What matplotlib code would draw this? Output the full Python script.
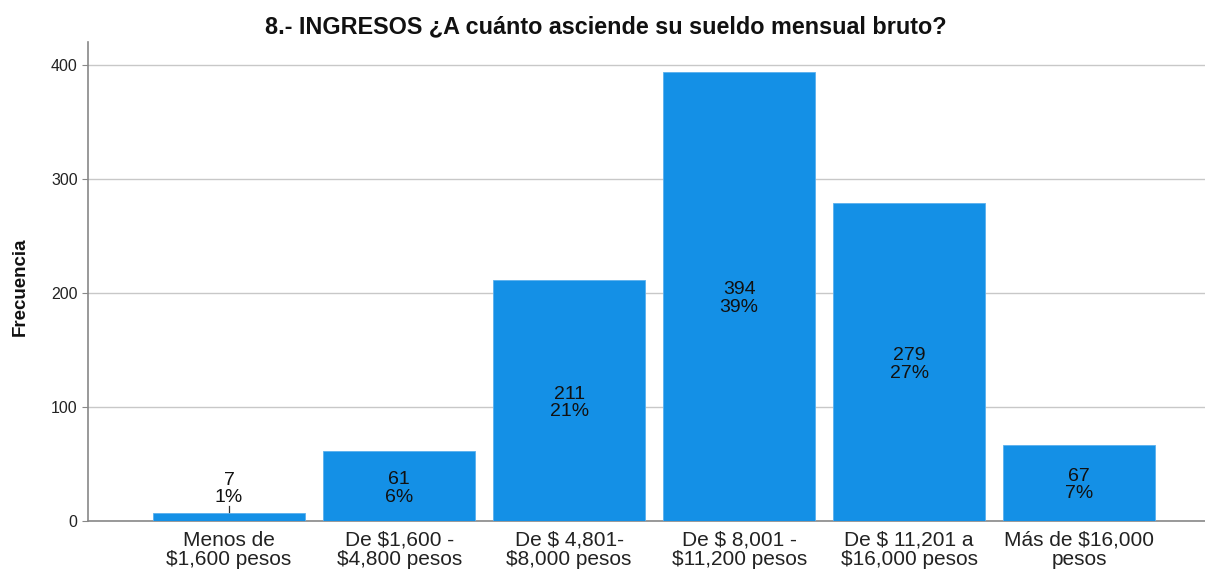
import numpy as np
import matplotlib
matplotlib.use("Agg")
import matplotlib.pyplot as plt

plt.rcParams['font.family'] = ['Liberation Sans', 'DejaVu Sans']

categorias = ["Menos de\n$1,600 pesos", "De $1,600 -\n$4,800 pesos", "De $ 4,801-\n$8,000 pesos",
              "De $ 8,001 -\n$11,200 pesos", "De $ 11,201 a\n$16,000 pesos", "Más de $16,000\npesos"]
frecuencia = [7, 61, 211, 394, 279, 67]
porcentaje = ["1%", "6%", "21%", "39%", "27%", "7%"]

fig = plt.figure(figsize=(12.05, 5.7), dpi=100)
ax = fig.add_axes([88 / 1205, 1 - 521 / 570, (1205 - 88) / 1205, (521 - 42) / 570])

x = np.arange(len(categorias))
ax.bar(x, frecuencia, width=0.894, color='#1490E6', edgecolor='#5AB0EE', linewidth=0.6, zorder=3)

for xi, f, p in zip(x, frecuencia, porcentaje):
    if f < 40:
        ymid = 28
        ax.plot([xi, xi], [f + 1, 13.5], color='#333333', lw=0.9, zorder=4)
    else:
        ymid = f / 2 - 2
    ax.text(xi, ymid + 7.8, str(f), ha='center', va='center', fontsize=14, color='#111111', zorder=5)
    ax.text(xi, ymid - 7.8, p, ha='center', va='center', fontsize=14, color='#111111', zorder=5)

ax.set_xlim(-0.83, 5.74)
ax.set_ylim(0, 420)
ax.set_yticks([0, 100, 200, 300, 400])
ax.set_xticks(x)
ax.set_xticklabels(categorias, fontsize=15, color='#222222', linespacing=1.05)
ax.tick_params(axis='x', length=0, pad=7)
ax.tick_params(axis='y', length=4, color='#888888', labelsize=11.5, labelcolor='#222222')
ax.yaxis.grid(True, color='#c8c8c8', lw=1, zorder=0)
for s in ['top', 'right']:
    ax.spines[s].set_visible(False)
for s in ['left', 'bottom']:
    ax.spines[s].set_color('#888888')
    ax.spines[s].set_linewidth(1.2)

fig.text(20 / 1205, 1 - 287 / 570, "Frecuencia", rotation=90, ha='center', va='center',
         fontsize=13.5, fontweight='bold', fontstretch='condensed', color='#111111')
fig.text(606 / 1205, 1 - 27 / 570, "8.- INGRESOS ¿A cuánto asciende su sueldo mensual bruto?",
         ha='center', va='center', fontsize=16.8, fontweight='bold', color='#111111')

fig.savefig("out.png", dpi=100)
